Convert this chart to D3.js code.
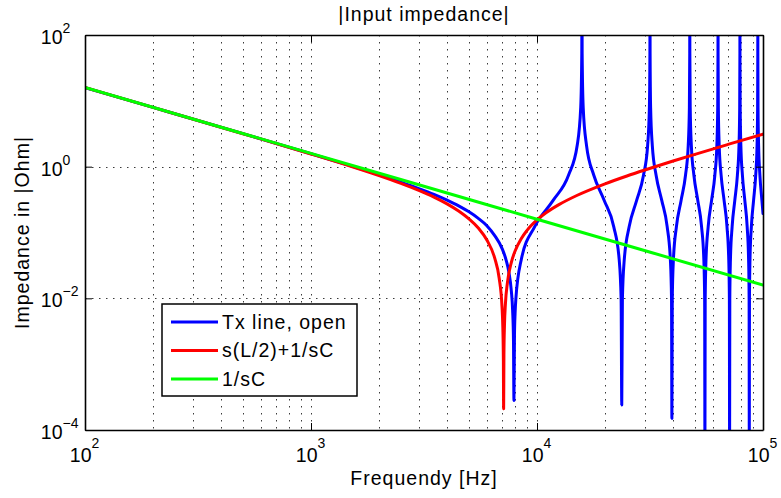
<!DOCTYPE html>
<html>
<head>
<meta charset="utf-8">
<script src="https://cdn.jsdelivr.net/npm/d3@7"></script>
<style>
  body { margin: 0; background: #fff; }
  text { font-family: "Liberation Sans", Arial, Helvetica, sans-serif; fill: #000; }
</style>
</head>
<body>
<div id="chart-area"></div>
<script>
// *********************
// Data
// *********************

// |Z| of the open transmission line, [frequency Hz, impedance Ohm]
const txLineOpen = [
  [100,15.9],[200,7.95],[500,3.17],[1000,1.571],[1500,1.028],[2000,0.753],[2500,0.581],[3000,0.465],
  [3500,0.379],[4000,0.310],[4500,0.254],[5000,0.206],[5500,0.164],[6000,0.127],[6500,0.0897],
  [7000,0.0575],[7300,0.0382],[7500,0.0255],[7700,0.0129],[7800,0.00663],[7870,0.00224],[7906,0.00028],
  [7950,0.00278],[8000,0.00594],[8061,0.00976],[8514,0.0383],[9772,0.123],[11786,0.307],[13799,0.747],
  [15057,2.09],[15611,7.9],[15782,52.7],[15811,1000],
  [15841,52.7],[16012,7.9],[16566,2.09],[17824,0.747],[19837,0.307],[21851,0.123],[23109,0.0383],[23562,0.00976],[23717,0.00024],
  [23872,0.00976],[24325,0.0383],[25583,0.123],[27597,0.307],[29610,0.747],[30868,2.09],[31422,7.9],[31593,52.7],[31623,1000],
  [31653,52.7],[31824,7.9],[32378,2.09],[33636,0.747],[35649,0.307],[37663,0.123],[38921,0.0383],[39374,0.00976],[39528,0.00015],
  [39683,0.00976],[40136,0.0383],[41394,0.123],[43408,0.307],[45421,0.747],[46679,2.09],[47233,7.9],[47404,52.7],[47434,1000],
  [47464,52.7],[47635,7.9],[48189,2.09],[49447,0.747],[51460,0.307],[53474,0.123],[54732,0.0383],[55185,0.00976],[55340,0.00005],
  [55495,0.00976],[55948,0.0383],[57206,0.123],[59220,0.307],[61233,0.747],[62491,2.09],[63045,7.9],[63216,52.7],[63246,1000],
  [63276,52.7],[63447,7.9],[64001,2.09],[65259,0.747],[67272,0.307],[69286,0.123],[70544,0.0383],[70997,0.00976],[71151,0.00005],
  [71306,0.00976],[71759,0.0383],[73017,0.123],[75031,0.307],[77044,0.747],[78302,2.09],[78856,7.9],[79027,52.7],[79057,1000],
  [79087,52.7],[79258,7.9],[79812,2.09],[81070,0.747],[83083,0.307],[85097,0.123],[86355,0.0383],[86808,0.00976],[86963,0.00005],
  [87118,0.00976],[87571,0.0383],[88829,0.123],[90843,0.307],[92856,0.747],[94114,2.09],[94668,7.9],[94839,52.7],[94868,1000],
  [94898,52.7],[95069,7.9],[95623,2.09],[96881,0.747],[98894,0.307],[100000,0.194]
];

// |s(L/2)+1/sC|
const lumpedLC = [
  [100,15.91],[200,7.951],[500,3.167],[1000,1.560],[1500,1.014],[2000,0.733],[2500,0.558],[3000,0.436],
  [3500,0.345],[4000,0.272],[4500,0.212],[5000,0.161],[5500,0.117],[6000,0.0768],[6500,0.0407],
  [6800,0.0204],[7000,0.0075],[7060,0.0036],[7100,0.0011],[7118,0.00021],[7140,0.0014],[7180,0.0039],
  [7250,0.0083],[7400,0.0174],[7700,0.0352],[8000,0.0524],[8500,0.0798],[9000,0.1059],[10000,0.155],
  [11000,0.201],[12500,0.265],[15000,0.365],[20000,0.549],[25000,0.722],[30000,0.889],[40000,1.217],
  [50000,1.539],[70000,2.176],[100000,3.126]
];

// |1/sC|
const capOnly = [[100,15.92],[1000,1.592],[10000,0.1592],[100000,0.01592]];

const seriesNames = ["Tx line, open", "s(L/2)+1/sC", "1/sC"];
const seriesColors = ["#0000ff", "#ff0000", "#00ff00"];

// Tick labels
const xMajorTicks = [1e2, 1e3, 1e4, 1e5];
const xTickExponents = ["2", "3", "4", "5"];
const yMajorTicks = [1e2, 1e0, 1e-2, 1e-4];
const yTickExponents = ["2", "0", "\u22122", "\u22124"];

// *********************
// Basic setup SVG
// *********************
const width = 678;
const height = 395;
const margin = {left: 85, right: 18, top: 35, bottom: 68};

const svg = d3.select("#chart-area")
  .append("svg")
  .attr("width", width + margin.left + margin.right)
  .attr("height", height + margin.top + margin.bottom);

svg.append("rect")
  .attr("width", "100%")
  .attr("height", "100%")
  .attr("fill", "white");

const g = svg.append("g")
  .attr("transform", "translate(" + margin.left + "," + margin.top + ")");

// *********************
// Scales
// *********************
const x = d3.scaleLog().domain([1e2, 1e5]).range([0, width]);
const y = d3.scaleLog().domain([1e-4, 1e2]).range([height, 0]);

// *********************
// Grid
// *********************
const gridStyle = sel => sel
  .attr("stroke", "#3a3a3a")
  .attr("stroke-width", 1)
  .attr("stroke-dasharray", "1.5,5.5");

g.append("g").selectAll("line")
  .data(x.ticks().filter(d => d > 1e2 && d < 1e5))
  .enter().append("line")
  .attr("x1", d => Math.round(x(d)) + 0.5)
  .attr("x2", d => Math.round(x(d)) + 0.5)
  .attr("y1", 0)
  .attr("y2", height)
  .call(gridStyle);

g.append("g").selectAll("line")
  .data(yMajorTicks.filter(d => d > 1e-4 && d < 1e2))
  .enter().append("line")
  .attr("x1", 0)
  .attr("x2", width)
  .attr("y1", d => Math.round(y(d)) + 0.5)
  .attr("y2", d => Math.round(y(d)) + 0.5)
  .call(gridStyle);

// *********************
// Lines
// *********************
svg.append("defs").append("clipPath")
  .attr("id", "plot-clip")
  .append("rect")
  .attr("width", width)
  .attr("height", height);

const line = d3.line()
  .x(d => x(d[0]))
  .y(d => y(d[1]))
  .curve(d3.curveMonotoneX);

const plotData = [txLineOpen, lumpedLC, capOnly];

g.append("g")
  .attr("clip-path", "url(#plot-clip)")
  .selectAll("path")
  .data(plotData)
  .enter().append("path")
  .attr("d", line)
  .attr("fill", "none")
  .attr("stroke", (d, i) => seriesColors[i])
  .attr("stroke-width", 3)
  .attr("stroke-linejoin", "round")
  .attr("stroke-linecap", "round");

// *********************
// Axes (ticks pointing inwards, box on)
// *********************
const minorX = x.ticks().filter(d => !xMajorTicks.includes(d));

const xBottom = g.append("g").attr("transform", "translate(0," + height + ")");
xBottom.call(d3.axisBottom(x).tickValues(minorX).tickSizeInner(-4).tickSizeOuter(0).tickFormat(""));
xBottom.call(d3.axisBottom(x).tickValues(xMajorTicks).tickSizeInner(-7).tickSizeOuter(0).tickFormat(""));

const xTop = g.append("g");
xTop.call(d3.axisTop(x).tickValues(minorX).tickSizeInner(-4).tickSizeOuter(0).tickFormat(""));
xTop.call(d3.axisTop(x).tickValues(xMajorTicks).tickSizeInner(-7).tickSizeOuter(0).tickFormat(""));

const yLeft = g.append("g");
yLeft.call(d3.axisLeft(y).tickValues(yMajorTicks).tickSizeInner(-7).tickSizeOuter(0).tickFormat(""));

const yRight = g.append("g").attr("transform", "translate(" + width + ",0)");
yRight.call(d3.axisRight(y).tickValues(yMajorTicks).tickSizeInner(-7).tickSizeOuter(0).tickFormat(""));

g.selectAll(".domain").attr("stroke", "#000").attr("stroke-width", 1.6);
g.selectAll(".tick line").attr("stroke", "#000").attr("stroke-width", 1);

// X tick labels: "10" plus superscript
const xLabels = g.append("g");
xMajorTicks.forEach((v, i) => {
  xLabels.append("text")
    .attr("x", x(v) + 6.5)
    .attr("y", height + 32)
    .attr("text-anchor", "end")
    .attr("font-size", "19.5px")
    .text("10");
  xLabels.append("text")
    .attr("x", x(v) + 6.5)
    .attr("y", height + 18)
    .attr("font-size", "14px")
    .text(xTickExponents[i]);
});

// Y tick labels
const yLabels = g.append("g");
yMajorTicks.forEach((v, i) => {
  yLabels.append("text")
    .attr("x", -22.5)
    .attr("y", y(v) + 9)
    .attr("text-anchor", "end")
    .attr("font-size", "19.5px")
    .text("10");
  yLabels.append("text")
    .attr("x", -22.5)
    .attr("y", y(v) - 2)
    .attr("font-size", "14px")
    .text(yTickExponents[i]);
});

// *********************
// Title and axis labels
// *********************
svg.append("text")
  .attr("x", margin.left + width / 2)
  .attr("y", 21)
  .attr("text-anchor", "middle")
  .attr("font-size", "19.5px")
  .attr("letter-spacing", "1px")
  .text("|Input impedance|");

svg.append("text")
  .attr("x", margin.left + width / 2)
  .attr("y", 485)
  .attr("text-anchor", "middle")
  .attr("font-size", "19.5px")
  .attr("letter-spacing", "1px")
  .text("Frequendy [Hz]");

svg.append("text")
  .attr("transform", "translate(29," + (margin.top + height / 2) + ") rotate(-90)")
  .attr("text-anchor", "middle")
  .attr("font-size", "19.5px")
  .attr("letter-spacing", "1px")
  .text("Impedance in |Ohm|");

// *********************
// Legend
// *********************
const legend = svg.append("g").attr("transform", "translate(162,304)");

legend.append("rect")
  .attr("width", 195)
  .attr("height", 92)
  .attr("fill", "white")
  .attr("stroke", "#000")
  .attr("stroke-width", 1.5);

seriesNames.forEach((name, i) => {
  const row = legend.append("g").attr("transform", "translate(0," + (18 + i * 28.5) + ")");
  row.append("line")
    .attr("x1", 9)
    .attr("x2", 56)
    .attr("stroke", seriesColors[i])
    .attr("stroke-width", 3);
  row.append("text")
    .attr("x", 60)
    .attr("y", 6.5)
    .attr("font-size", "19.5px")
    .attr("letter-spacing", "1px")
    .text(name);
});
</script>
</body>
</html>
